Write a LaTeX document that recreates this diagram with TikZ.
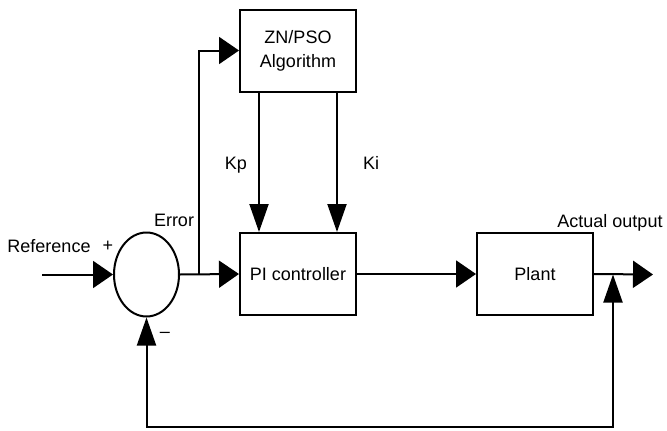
\documentclass[tikz,border=0pt]{standalone}
\usepackage{fontspec}
\setmainfont{Liberation Sans}
\usetikzlibrary{arrows.meta,shapes.geometric}

\begin{document}
\begin{tikzpicture}[
        x=1pt, y=-1pt,
        line width=2pt,
        every node/.style={font=\fontsize{18}{24}\selectfont},
        block/.style={draw, minimum width=116pt, minimum height=82pt, inner sep=0pt, align=center},
        lbl/.style={anchor=base, inner sep=0pt},
        harrow/.style={-{Triangle[length=20pt,width=27pt]}},
        varrow/.style={-{Triangle[length=28pt,width=19pt]}}
    ]
    \useasboundingbox (0,0) rectangle (667,431);
    % blocks
    \node[draw, ellipse, minimum width=65pt, minimum height=84pt, inner sep=0pt] (sum) at (146.5,274.5) {};
    \node[block] (algo) at (298,50.5) {ZN/PSO\\Algorithm};
    \node[block] (pi) at (298,274) {PI controller};
    \node[block] (plant) at (535,274) {Plant};
    % points on the lines
    \coordinate (ref) at (42,274.5);
    \coordinate (branch) at (199,274.5);
    \coordinate (tap) at (613,274.5);
    \coordinate (out) at (653,274.5);
    \coordinate (fb) at (380,427);
    % labels
    \node[lbl] (reflabel) at (49,252) {Reference};
    \node[lbl] (plus) at (108,251) {+};
    \node[lbl] (errlabel) at (174,226) {Error};
    \node[lbl] (minus) at (165,337) {–};
    \node[lbl] (kplabel) at (236,169) {Kp};
    \node[lbl] (kilabel) at (371,169) {Ki};
    \node[lbl] (outlabel) at (610,227) {Actual output};
    % connectors
    \draw[harrow] (ref) -- (sum.west);
    \draw[harrow] (sum.east) -- (pi.west);
    \draw[harrow] (branch) |- (algo.west);
    \draw[varrow] ([xshift=20pt]algo.south west) -- ([xshift=20pt]pi.north west);
    \draw[varrow] ([xshift=-20pt]algo.south east) -- ([xshift=-20pt]pi.north east);
    \draw[harrow] (pi.east) -- (plant.west);
    \draw[harrow] (plant.east) -- (out);
    \draw[{Triangle[length=28pt,width=19pt]}-{Triangle[length=28pt,width=19pt]}] (sum.south) |- (fb) -| (tap);
\end{tikzpicture}
\end{document}
